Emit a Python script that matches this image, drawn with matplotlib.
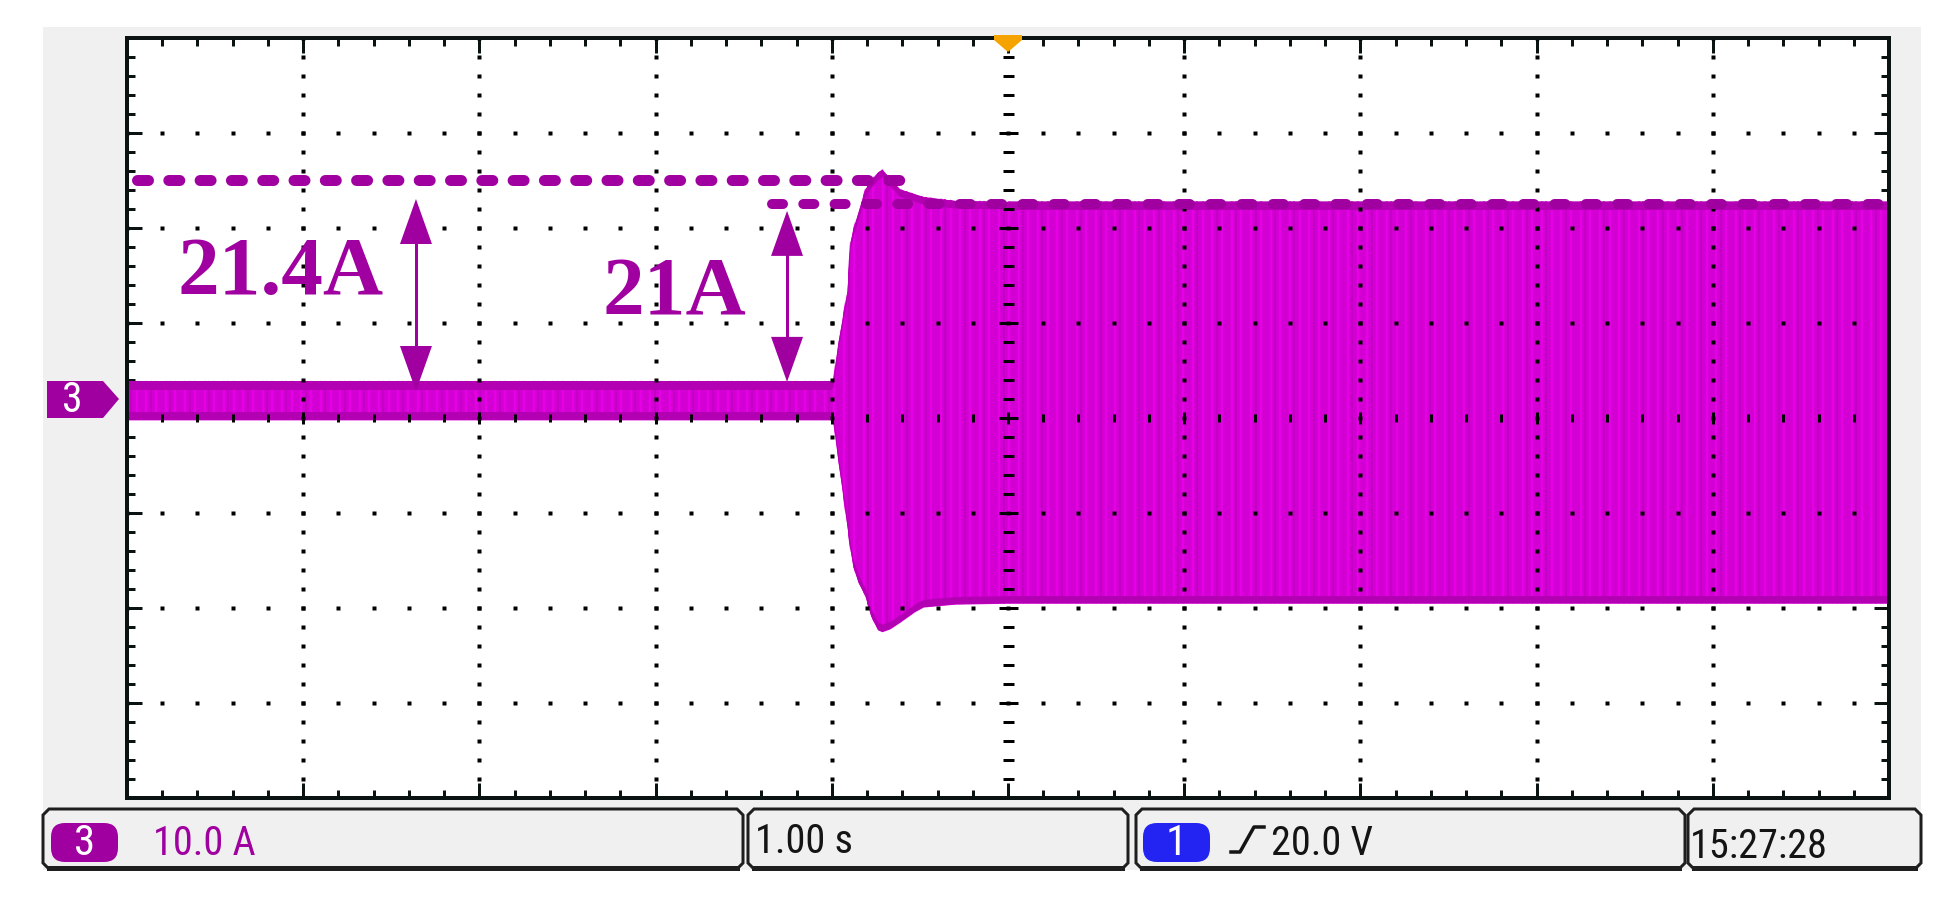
import numpy as np
import matplotlib
matplotlib.use('Agg')
import matplotlib.pyplot as plt
from matplotlib import font_manager
from matplotlib.patches import Polygon, FancyBboxPatch, Rectangle
from matplotlib.lines import Line2D

plt.rcParams['lines.scale_dashes'] = False

# channel 3 current trace, envelope (time in s, current in A)
t_env = [-5.0, -1.0, -0.993, -0.965, -0.94, -0.914, -0.897, -0.88, -0.851, -0.812,
         -0.78, -0.74, -0.715, -0.67, -0.613, -0.53, -0.48, -0.3, 0.0, 5.0]
upper_env = [1.9, 1.9, 2.1, 6.0, 8.6, 11.4, 16.5, 17.9, 19.7, 22.1,
             23.0, 23.9, 24.2, 23.2, 22.1, 21.6, 21.3, 20.9, 20.8, 20.8]
lower_env = [-2.2, -2.2, -2.3, -6.6, -9.8, -13.4, -15.8, -17.6, -19.3, -20.7,
             -22.8, -24.3, -24.5, -24.2, -23.5, -22.4, -21.9, -21.6, -21.5, -21.5]

# screen settings
amps_per_div = 10.0
sec_per_div = 1.0
ground_pos = 0.197          # ground marker, divisions above screen centre

# annotations (A)
peak_transient = 23.0
peak_steady = 20.5
label_transient = '21.4A'
label_steady = '21A'
arrow_transient = (-3.36, 0.84, 21.05)   # t, bottom tip, top tip
arrow_steady = (-1.254, 1.8, 19.8)

# status bar
ch3_scale = '10.0 A'
timebase = '1.00 s'
trigger_level = '20.0 V'
clock = '15:27:28'

PURPLE = '#A000A0'
MAGENTA = '#D200D2'
LIGHT = '#E600E6'
EDGE = '#B200B2'
INK = '#0A1212'
GREY = '#F0F0F0'


def pick_font():
    # narrow sans if there is one, else plain Liberation Sans
    for fam in ['Liberation Sans Narrow', 'Roboto Condensed']:
        try:
            font_manager.findfont(fam, fallback_to_default=False)
            return fam, 29
        except ValueError:
            pass
    return 'Liberation Sans', 25


narrow, nsize = pick_font()

px = 72 / 100  # points per pixel

fig = plt.figure(figsize=(19.6, 9.04), dpi=100)

# background / status layer in pixel coordinates
bg = fig.add_axes([0, 0, 1, 1], zorder=0)
bg.set_xlim(0, 1960)
bg.set_ylim(904, 0)
bg.axis('off')
bg.add_patch(Rectangle((43, 28), 1878, 843, facecolor=GREY, edgecolor='none'))

# screen
ax = fig.add_axes([127 / 1960, 1 - 798.7 / 904, 1762 / 1960, 760 / 904], zorder=1)
half_w = 5 * sec_per_div
ybot = -(4 + ground_pos) * amps_per_div
ytop = (4 - ground_pos) * amps_per_div
ycen = -ground_pos * amps_per_div
ax.set_xlim(-half_w, half_w)
ax.set_ylim(ybot, ytop)
ax.set_facecolor('white')

t = np.array(t_env)
up = np.array(upper_env)
lo = np.array(lower_env)

band = ax.fill_between(t, lo, up, color=MAGENTA, lw=0, zorder=2)
clip = (band.get_paths()[0], ax.transData)

# texture of the sampled oscillation
stripes = ax.vlines(np.arange(-5, 5, 0.055), lo.min(), up.max(), colors=LIGHT,
                    linewidth=2.5 * px, zorder=2.1)
stripes.set_clip_path(*clip)
stripes2 = ax.vlines(np.arange(-4.975, 5, 0.11), lo.min(), up.max(), colors='#C400C4',
                     linewidth=2 * px, zorder=2.1)
stripes2.set_clip_path(*clip)
for a, b in [(up - 0.8, up), (lo, lo + 0.8)]:
    e = ax.fill_between(t, a, b, color=EDGE, lw=0, zorder=2.2)
    e.set_clip_path(*clip)

# dotted graticule
minor_x = np.arange(-half_w, half_w + 1e-9, sec_per_div / 5)
minor_y = np.arange(ybot, ytop + 1e-9, amps_per_div / 5)
major_x = np.arange(-half_w + sec_per_div, half_w - 1e-9, sec_per_div)
major_y = np.arange(ybot + amps_per_div, ytop - 1e-9, amps_per_div)
for gx in major_x:
    if abs(gx) < 1e-9:
        continue
    ax.plot(np.full_like(minor_y, gx), minor_y, ls='none', marker='s', ms=3.2 * px,
            mfc='black', mec='none', zorder=4)
for gy in major_y:
    if abs(gy - ycen) < 1e-9:
        continue
    ax.plot(minor_x, np.full_like(minor_x, gy), ls='none', marker='s', ms=3.2 * px,
            mfc='black', mec='none', zorder=4)
# centre cross with small ticks
ax.plot(np.zeros_like(minor_y), minor_y, ls='none', marker='_', ms=11 * px,
        mew=3 * px, color='black', zorder=4)
ax.plot(np.zeros_like(major_y), major_y, ls='none', marker='_', ms=19 * px,
        mew=3 * px, color='black', zorder=4)
ax.plot(minor_x, np.full_like(minor_x, ycen), ls='none', marker='|', ms=8 * px,
        mew=3 * px, color='black', zorder=4)
ax.plot(major_x, np.full_like(major_x, ycen), ls='none', marker='|', ms=12 * px,
        mew=3 * px, color='black', zorder=4)

ax.set_xticks(np.arange(-half_w, half_w + 1e-9, sec_per_div))
ax.set_xticks(minor_x, minor=True)
ax.set_yticks(np.arange(ybot, ytop + 1e-9, amps_per_div))
ax.set_yticks(minor_y, minor=True)
ax.tick_params(which='both', direction='in', top=True, right=True,
               labelbottom=False, labelleft=False, color=INK, width=3 * px)
ax.tick_params(which='major', length=15 * px)
ax.tick_params(which='minor', length=8 * px)
for s in ax.spines.values():
    s.set_linewidth(4 * px)
    s.set_color(INK)
    s.set_zorder(6)

# dashed peak levels
x_per_px = sec_per_div / 176.2
ax.plot([-4.946, -0.6], [peak_transient] * 2, color=PURPLE, lw=11 * px,
        dashes=(11 * px, 20.3 * px), dash_capstyle='round', zorder=5)
ax.plot([-1.34, 4.96], [peak_steady] * 2, color=PURPLE, lw=10 * px,
        dashes=(11 * px, 20.3 * px), dash_capstyle='round', zorder=5)

# double headed arrows
head_len = 45 / 9.5          # A
head_hw = 16 * x_per_px      # s
for xa, ya, yb in [arrow_transient, arrow_steady]:
    ax.plot([xa, xa], [ya + head_len * 0.5, yb - head_len * 0.5], color=PURPLE,
            lw=3 * px, solid_capstyle='butt', zorder=5)
    ax.add_patch(Polygon([(xa, yb), (xa - head_hw, yb - head_len), (xa + head_hw, yb - head_len)],
                         closed=True, color=PURPLE, lw=0, zorder=5))
    ax.add_patch(Polygon([(xa, ya), (xa - head_hw, ya + head_len), (xa + head_hw, ya + head_len)],
                         closed=True, color=PURPLE, lw=0, zorder=5))

ax.text(-4.716, 11.16, label_transient, family='Liberation Serif', weight='bold',
        size=60, color=PURPLE, ha='left', va='baseline', zorder=5)
ax.text(-2.30, 8.95, label_steady, family='Liberation Serif', weight='bold',
        size=60, color=PURPLE, ha='left', va='baseline', zorder=5)

# overlay: markers and status bar (pixel coordinates)
ov = fig.add_axes([0, 0, 1, 1], zorder=7)
ov.set_xlim(0, 1960)
ov.set_ylim(904, 0)
ov.axis('off')
ov.patch.set_alpha(0)

ov.add_patch(Polygon([(47, 382), (103, 382), (119, 400), (103, 419), (47, 419)],
                     closed=True, color=PURPLE, lw=0))
ov.text(72, 401, '3', color='white', family=narrow, size=nsize + 1, ha='center', va='center')
ov.add_patch(Polygon([(994, 36), (1022, 36), (1022, 41), (1008, 53), (994, 41)],
                     closed=True, color='#F4A300', lw=0))

boxes = [(43, 743), (748, 1128), (1136, 1685), (1688, 1921)]
by0, by1 = 810, 870
c = 6
for x0, x1 in boxes:
    ov.add_patch(Polygon([(x0 + c, by0), (x1 - c, by0), (x1, by0 + c), (x1, by1 - c),
                          (x1 - c, by1), (x0 + c, by1), (x0, by1 - c), (x0, by0 + c)],
                         closed=True, facecolor=GREY, edgecolor='#1E1E1E', lw=3 * px))
    ov.add_line(Line2D([x0 + c, x1 - c], [by1 - 1, by1 - 1], color='#1E1E1E', lw=5 * px))

ov.add_patch(FancyBboxPatch((51, 824), 67, 39, boxstyle='round,pad=0,rounding_size=14',
                            facecolor=PURPLE, edgecolor='none'))
ov.text(85, 844, '3', color='white', family=narrow, size=nsize + 2, ha='center', va='center')
ov.add_patch(FancyBboxPatch((1143, 824), 67, 39, boxstyle='round,pad=0,rounding_size=14',
                            facecolor='#2323F2', edgecolor='none'))
ov.text(1176, 844, '1', color='white', family=narrow, size=nsize + 2, ha='center', va='center')

ov.text(153, 855, ch3_scale, color=PURPLE, family=narrow, size=nsize, ha='left', va='baseline')
ov.text(755, 853, timebase, color='#141414', family=narrow, size=nsize, ha='left', va='baseline')
ov.add_line(Line2D([1231, 1240, 1254, 1264], [853, 853, 828, 828], color='#141414', lw=3.5 * px))
ov.text(1271, 855, trigger_level, color='#141414', family=narrow, size=nsize, ha='left', va='baseline')
ov.text(1690, 858, clock, color='#141414', family=narrow, size=nsize, ha='left', va='baseline')

fig.savefig('out.png', dpi=100)
